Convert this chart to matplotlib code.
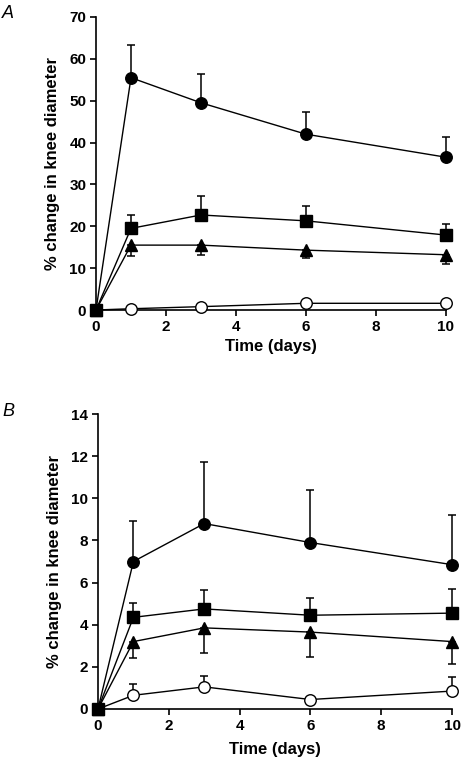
import numpy as np
import matplotlib
matplotlib.use("Agg")
import matplotlib.pyplot as plt

plt.rcParams['font.family'] = ['Liberation Sans', 'DejaVu Sans']
plt.rcParams['font.weight'] = 'bold'

days = [0, 1, 3, 6, 10]

# Panel A values (mean) and one-sided error bars
a_circle = [0, 55.5, 49.5, 42.0, 36.5]
a_circle_err = [0, 7.7, 7.0, 5.2, 4.8]
a_square = [0, 19.5, 22.7, 21.3, 17.9]
a_square_err = [0, 3.2, 4.5, 3.5, 2.7]
a_triangle = [0, 15.5, 15.5, 14.3, 13.2]
a_triangle_err = [0, 2.5, 2.4, 1.8, 2.2]
a_open = [0, 0.3, 0.8, 1.6, 1.6]
a_open_err = [0, 0, 0, 0, 0]

# Panel B values (mean) and one-sided error bars
b_circle = [0, 7.0, 8.8, 7.9, 6.85]
b_circle_err = [0, 1.9, 2.9, 2.5, 2.35]
b_square = [0, 4.35, 4.75, 4.45, 4.55]
b_square_err = [0, 0.7, 0.9, 0.8, 1.15]
b_triangle = [0, 3.2, 3.85, 3.65, 3.2]
b_triangle_err = [0, 0.8, 1.2, 1.2, 1.05]
b_open = [0, 0.65, 1.05, 0.45, 0.85]
b_open_err = [0, 0.55, 0.5, 0.0, 0.65]

a_yticks = [0, 10, 20, 30, 40, 50, 60, 70]
b_yticks = [0, 2, 4, 6, 8, 10, 12, 14]
xticks = [0, 2, 4, 6, 8, 10]

W, H = 461, 758
fig = plt.figure(figsize=(W / 100, H / 100), dpi=100)


def draw_series(ax, y, err, marker, fc, down=False, z=3):
    y = np.array(y, dtype=float)
    err = np.array(err, dtype=float)
    if down:
        yerr = [err, np.zeros_like(err)]
    else:
        yerr = [np.zeros_like(err), err]
    ax.errorbar(days, y, yerr=yerr, fmt='none', ecolor='black',
                elinewidth=1.1, capsize=3.2, capthick=1.1,
                clip_on=False, zorder=z)
    ax.plot(days, y, color='black', lw=1.0, marker=marker, ms=8.3,
            mfc=fc, mec='black', mew=1.0, clip_on=False, zorder=z + 1)


def setup_axes(ax, ymax, yticks, xpad):
    ax.set_xlim(0, 10)
    ax.set_ylim(0, ymax)
    for s in ['top', 'right']:
        ax.spines[s].set_visible(False)
    for s in ['left', 'bottom']:
        ax.spines[s].set_linewidth(1.2)
    ax.set_xticks(xticks)
    ax.set_yticks(yticks)
    ax.tick_params(direction='out', length=4, width=1.2, labelsize=11, pad=3)
    ax.set_xlabel('Time (days)', fontsize=12, fontweight='bold', labelpad=xpad)
    ax.set_ylabel('% change in knee diameter', fontsize=12,
                  fontweight='bold', labelpad=7)
    for lab in ax.get_xticklabels() + ax.get_yticklabels():
        lab.set_fontweight('bold')


# Panel A
axA = fig.add_axes([96 / W, 1 - 310 / H, 350 / W, 293 / H])
setup_axes(axA, 70, a_yticks, 4)
draw_series(axA, a_open, a_open_err, 'o', 'white', z=3)
draw_series(axA, a_triangle, a_triangle_err, '^', 'black', down=True, z=5)
draw_series(axA, a_circle, a_circle_err, 'o', 'black', z=7)
draw_series(axA, a_square, a_square_err, 's', 'black', z=9)

# Panel B
axB = fig.add_axes([98 / W, 1 - 709 / H, 354 / W, 295 / H])
setup_axes(axB, 14, b_yticks, 7)
draw_series(axB, b_open, b_open_err, 'o', 'white', z=3)
draw_series(axB, b_triangle, b_triangle_err, '^', 'black', down=True, z=5)
draw_series(axB, b_circle, b_circle_err, 'o', 'black', z=7)
draw_series(axB, b_square, b_square_err, 's', 'black', z=9)

fig.text(2 / W, 1 - 5 / H, 'A', fontsize=13, style='italic',
         fontweight='normal', va='top', ha='left')
fig.text(2 / W, 1 - 403 / H, 'B', fontsize=13, style='italic',
         fontweight='normal', va='top', ha='left')

fig.savefig('out.png', dpi=100)
